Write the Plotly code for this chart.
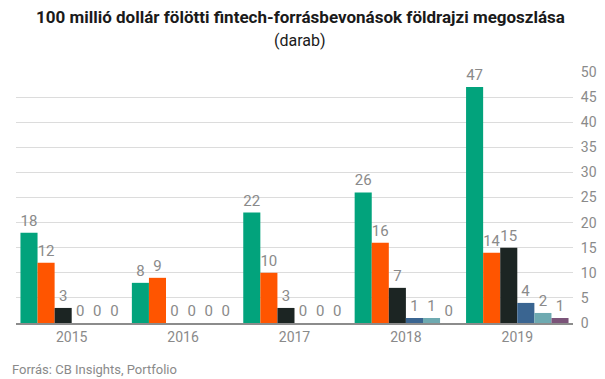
import plotly.graph_objects as go

years = ["2015", "2016", "2017", "2018", "2019"]
s1 = [18, 8, 22, 26, 47]
s2 = [12, 9, 10, 16, 14]
s3 = [3, 0, 3, 7, 15]
s4 = [0, 0, 0, 1, 4]
s5 = [0, 0, 0, 1, 2]
s6 = [0, 0, 0, 0, 1]
series = [s1, s2, s3, s4, s5, s6]
colors = ["#02a37c", "#ff5500", "#1c2523", "#3a6591", "#6eaab1", "#7b5479"]

fig = go.Figure()
for vals, col in zip(series, colors):
    fig.add_trace(go.Bar(
        x=years, y=vals, marker_color=col, marker_line_width=0,
        text=[str(v) for v in vals],
        textposition="outside",
        textfont=dict(family="Roboto", size=15, color="#8a8a8a"),
        cliponaxis=False, showlegend=False,
    ))

fig.update_layout(
    width=597, height=371,
    margin=dict(l=8, r=32, t=64, b=56),
    barmode="group", bargap=0.08, bargroupgap=0,
    plot_bgcolor="white", paper_bgcolor="white",
    font=dict(family="Roboto", color="#8a8a8a"),
    xaxis=dict(
        showgrid=False, showline=True, linecolor="#8c8c8c", linewidth=1.5,
        ticks="", tickfont=dict(family="Roboto", size=14, color="#8a8a8a"),
    ),
    yaxis=dict(
        side="right", range=[0, 50], dtick=5, showgrid=True, gridcolor="#dcdcdc",
        gridwidth=1, zeroline=False, ticks="outside", ticklen=4,
        tickcolor="rgba(255,255,255,0)", automargin=False,
        tickfont=dict(family="Roboto", size=14, color="#8a8a8a"),
    ),
    annotations=[
        dict(text="<b>100 millió dollár fölötti fintech-forrásbevonások földrajzi megoszlása</b>",
             x=0.51, xref="paper", xanchor="center", y=1.218, yref="paper", yanchor="middle",
             showarrow=False, font=dict(family="Roboto", size=17, color="#1a1a1a")),
        dict(text="(darab)",
             x=0.51, xref="paper", xanchor="center", y=1.125, yref="paper", yanchor="middle",
             showarrow=False, font=dict(family="Roboto", size=16, color="#1a1a1a")),
        dict(text="Forrás: CB Insights, Portfolio", x=-0.011, xref="paper", xanchor="left",
             y=-0.187, yref="paper", yanchor="middle", showarrow=False,
             font=dict(family="Roboto", size=13, color="#8a8a8a")),
    ],
)

fig.write_html("out.html")
